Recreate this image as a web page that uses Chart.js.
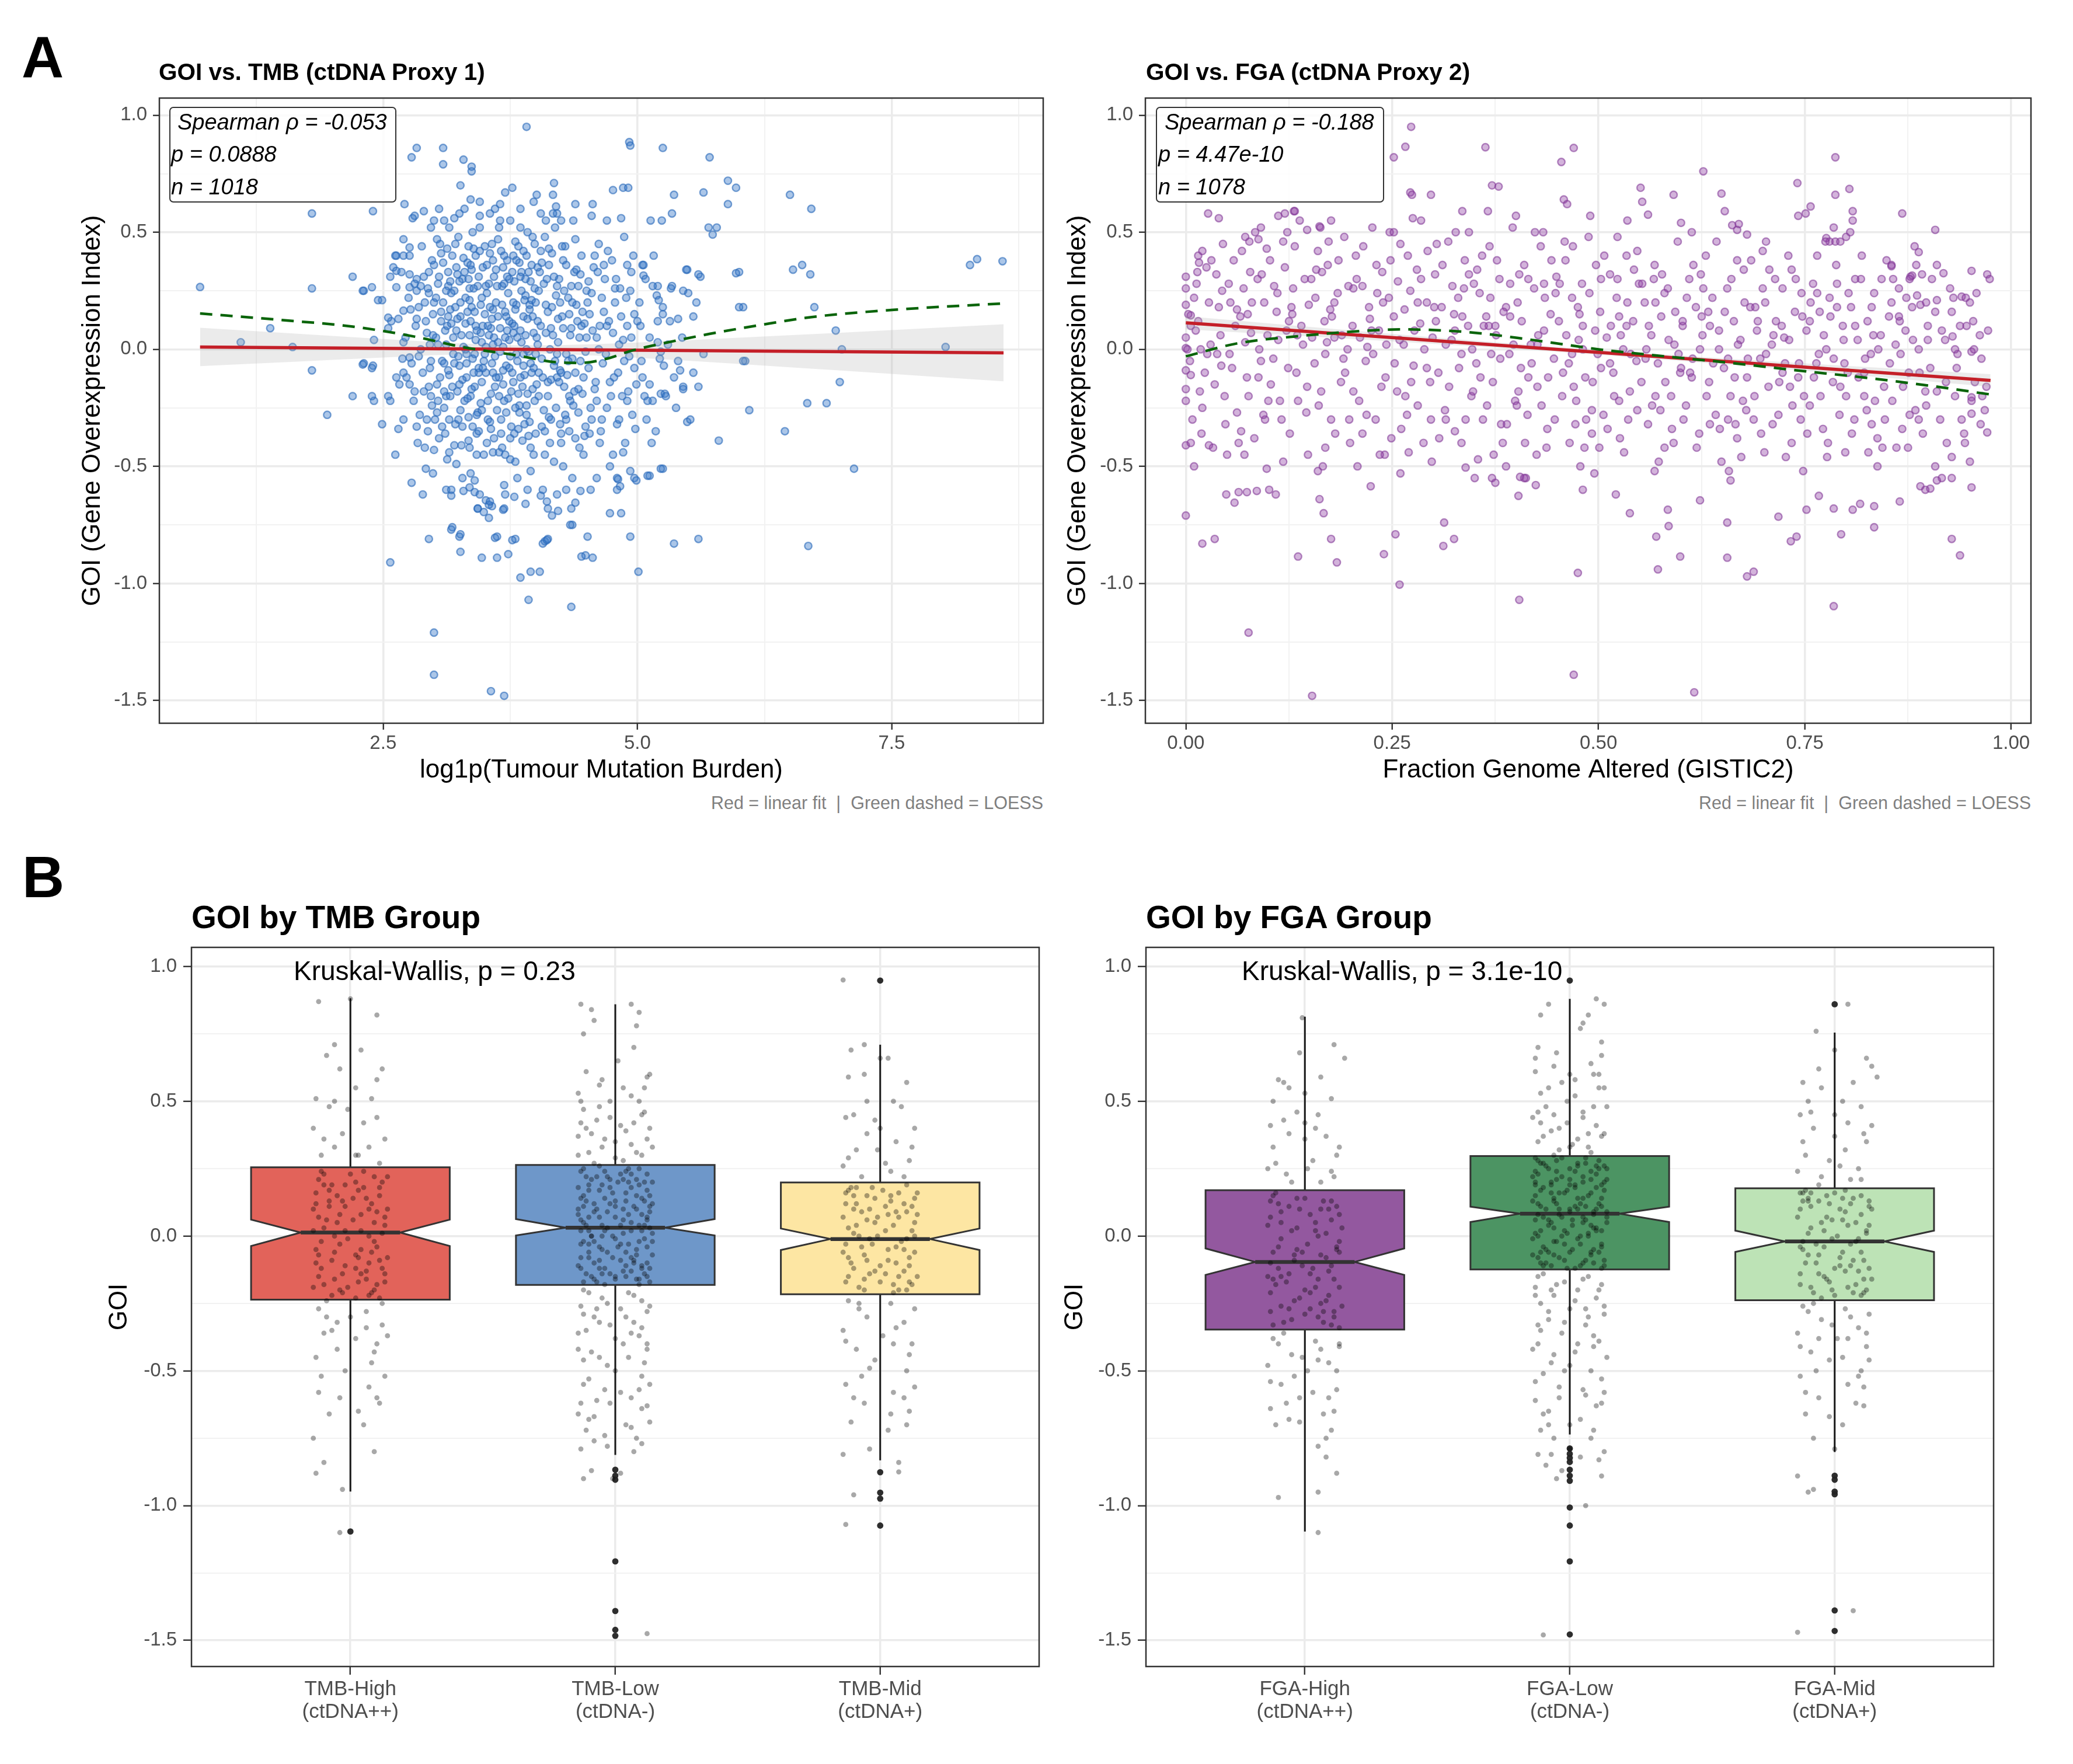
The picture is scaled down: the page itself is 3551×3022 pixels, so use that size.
<!DOCTYPE html>
<html><head><meta charset="utf-8"><title>GOI vs ctDNA proxies</title>
<script src="https://cdn.jsdelivr.net/npm/chart.js@4.4.1/dist/chart.umd.min.js"></script>
<style>
html,body{margin:0;padding:0;background:#fff;}
#page{position:relative;width:3551px;height:3022px;background:#fff;overflow:hidden;}
canvas{position:absolute;}
.lbl{position:absolute;white-space:pre;line-height:1;font-family:"Liberation Sans",Arial,Helvetica,sans-serif;color:#000;}
.annot{position:absolute;box-sizing:border-box;border:2.5px solid #333;border-radius:7px;background:rgba(255,255,255,0.82);}
</style></head>
<body><div id="page"></div>
<script>
// ---------------- DATA ----------------
const Y_MAJOR = [-1.5, -1.0, -0.5, 0.0, 0.5, 1.0];
const Y_LABELS = ['-1.5', '-1.0', '-0.5', '0.0', '0.5', '1.0'];
const Y_MINOR = [-1.25, -0.75, -0.25, 0.25, 0.75];

const TMB_X_MAJOR = [2.5, 5.0, 7.5];
const TMB_X_LABELS = ['2.5', '5.0', '7.5'];
const TMB_X_MINOR = [1.25, 3.75, 6.25, 8.75];
const FGA_X_MAJOR = [0, 0.25, 0.5, 0.75, 1.0];
const FGA_X_LABELS = ['0.00', '0.25', '0.50', '0.75', '1.00'];
const FGA_X_MINOR = [0.125, 0.375, 0.625, 0.875];

// Panel A left: GOI vs log1p(TMB)
const TMB_POINTS = [
[0.70,0.266],[1.10,0.03],[1.39,0.09],[1.61,0.01],[1.80,0.58],[1.80,0.26],[1.80,-0.09],[1.95,-0.28],[2.20,0.31],[2.20,-0.20],
[2.31,-0.06],[2.31,0.25],[2.40,0.59],[2.41,0.04],[2.41,-0.22],[2.49,-0.32],[2.40,-0.07],[2.49,0.21],[2.57,-0.91],[2.57,-0.22],
[2.71,0.62],[2.78,0.82],[2.83,0.86],[3.09,0.86],[3.09,0.79],[3.29,0.81],[3.37,0.78],[3.37,0.76],[3.26,0.70],[3.91,0.95],
[4.92,0.885],[4.93,0.87],[5.25,0.86],[5.71,0.82],[5.89,0.72],[5.97,0.69],[5.65,0.67],[5.36,0.66],[6.50,0.66],[6.71,0.60],
[5.89,0.62],[5.34,0.58],[5.13,0.55],[5.70,0.52],[5.78,0.52],[5.74,0.49],[6.00,0.33],[5.49,0.34],[5.62,0.31],[6.53,0.34],
[6.62,0.36],[6.70,0.32],[8.27,0.36],[8.34,0.385],[8.59,0.376],[6.74,0.18],[6.04,0.18],[6.95,0.08],[7.01,0.00],[8.03,0.01],
[6.06,-0.05],[6.99,-0.14],[6.10,-0.26],[6.67,-0.23],[6.86,-0.23],[6.45,-0.35],[5.80,-0.39],[5.49,-0.31],[7.13,-0.51],[6.68,-0.84],
[5.60,-0.81],[5.36,-0.83],[5.01,-0.95],[5.12,-0.54],[5.25,-0.51],[4.93,-0.52],[4.97,-0.55],[4.80,-0.55],[4.93,-0.80],[4.73,-0.70],
[4.84,-0.70],[4.51,-0.80],[4.49,-0.88],[4.56,-0.89],[4.35,-1.10],[4.36,-0.75],[3.93,-1.07],[3.95,-0.95],[4.04,-0.95],[3.85,-0.975],
[4.09,-0.82],[4.12,-0.81],[3.00,-1.21],[3.00,-1.39],[3.56,-1.46],[3.69,-1.48],[2.95,-0.81],[3.26,-0.79],[3.26,-0.865],[3.47,-0.89],
[3.62,-0.89],[3.73,-0.875],[3.62,-0.80],[3.80,-0.81],[2.89,-0.62],[2.78,-0.57],[3.18,-0.76],[3.43,-0.68],[3.57,-0.67],[3.69,-0.68],
[3.77,0.69],[3.70,0.67],[4.01,0.66],[3.98,0.63],[4.18,0.71],[4.17,0.66],[4.39,0.62],[4.20,0.61],[4.21,0.58],[3.36,0.64],
[4.76,0.68],[4.86,0.69],[4.91,0.69],[4.55,0.57],[4.84,0.56],[5.24,0.55],[2.90,0.59],[3.00,0.55],[3.20,0.56],[3.45,0.57],
[3.55,0.58],[3.65,0.55],[4.10,0.55],[2.60,0.35],[2.58,0.12],[2.62,-0.45],[2.65,-0.34],
[2.99,-0.53],[3.12,-0.60],[3.17,-0.625],[3.29,-0.605],[3.35,-0.59],[3.40,-0.61],[3.51,-0.645],[3.54,-0.664],[3.43,-0.68],[3.49,-0.695],
[3.54,-0.72],[3.68,-0.685],[3.79,-0.63],[3.92,-0.60],[3.90,-0.66],[4.05,-0.625],[4.11,-0.65],[4.12,-0.68],[4.16,-0.71],[4.22,-0.69],
[4.21,-0.62],[4.35,-0.68],[4.39,-0.655],[4.34,-0.75],[4.44,-0.605],[4.54,-0.60],[4.81,-0.555],[4.83,-0.585],[5.10,-0.54],[5.23,-0.51],
[4.99,-0.56],[3.17,-0.77],[3.25,-0.80],[3.60,-0.805],[3.77,-0.815],[4.07,-0.83],[4.11,-0.815],[4.45,-0.885],
[5.05,0.36],[5.06,0.315],[5.20,0.27],[5.19,0.23],[5.21,0.21],[5.48,0.34],[5.60,0.32],[5.97,0.325],[6.00,0.18],[6.04,-0.05],
[5.55,0.14],[5.34,0.27],[5.45,0.25],[5.25,0.15],[5.20,0.03],[5.23,-0.01],[5.40,-0.05],[5.42,-0.09],[5.45,-0.16],[5.60,-0.16],
[5.23,-0.19],[5.27,-0.19],[5.12,-0.15],[5.07,-0.20],[5.15,-0.22],
[2.81,0.57],[2.63,0.40],[2.70,0.40],[2.76,0.435],[2.63,0.335],[2.57,0.31],[2.76,0.32],[2.83,0.30],[2.39,0.265],[2.30,0.25],
[2.45,0.21],[2.63,0.265],[2.76,0.265],[2.83,0.25],[2.70,0.165],[2.55,0.135],[2.55,0.09],[2.70,0.03],[2.76,-0.035],[2.30,-0.065],
[2.39,-0.08],[2.63,-0.12],[2.70,-0.10],[2.76,-0.15],[2.39,-0.20],[2.55,-0.20],
[2.62,0.40],[2.65,0.13],[2.66,-0.15],[2.68,0.33],[2.70,0.47],[2.70,-0.30],[2.72,0.05],[2.73,-0.12],[2.75,0.22],[2.76,0.40],
[2.78,-0.06],[2.79,0.56],[2.80,-0.22],[2.81,0.28],[2.82,0.10],[2.84,-0.40],[2.85,0.18],[2.86,-0.28],[2.87,0.00],[2.88,0.44],
[2.90,-0.18],[2.90,0.31],[2.92,-0.51],[2.93,0.07],[2.94,-0.35],[2.95,0.24],[2.96,-0.08],[2.97,0.52],[2.98,-0.24],[2.99,0.15],
[3.00,-0.43],[3.00,0.36],[2.83,-0.33],[2.77,0.17],[2.69,-0.04],
[3.02,0.05],[3.03,-0.15],[3.04,0.28],[3.05,-0.38],[3.06,0.45],[3.07,0.12],[3.08,-0.05],[3.09,0.20],[3.10,-0.25],[3.10,0.55],
[3.12,0.02],[3.13,-0.47],[3.14,0.33],[3.15,-0.11],[3.16,0.17],[3.17,-0.60],[3.18,0.40],[3.19,-0.02],[3.20,0.25],[3.21,-0.32],
[3.22,0.08],[3.23,-0.18],[3.24,0.48],[3.25,-0.07],[3.26,0.14],[3.27,-0.41],[3.28,0.30],[3.29,0.01],[3.30,-0.22],[3.31,0.22],
[3.32,-0.12],[3.33,0.37],[3.34,-0.29],[3.35,0.06],[3.36,-0.53],[3.37,0.18],[3.38,-0.04],[3.39,0.43],[3.40,-0.16],[3.41,0.10],
[3.42,-0.36],[3.43,0.27],[3.44,-0.08],[3.45,0.52],[3.46,-0.23],[3.47,0.03],[3.48,0.35],[3.49,-0.45],[3.50,0.15],[3.05,0.60],
[3.15,-0.30],[3.25,0.58],[3.35,0.26],[3.45,-0.62],[3.12,-0.20],[3.22,0.35],[3.32,-0.02],[3.42,0.08],[3.28,-0.55],[3.38,0.50],
[3.51,-0.10],[3.52,0.24],[3.53,-0.30],[3.54,0.06],[3.55,0.41],[3.56,-0.19],[3.57,0.13],[3.58,-0.44],[3.59,0.31],[3.60,-0.03],
[3.61,0.20],[3.62,-0.26],[3.63,0.47],[3.64,-0.12],[3.65,0.09],[3.66,-0.36],[3.67,0.27],[3.68,0.01],[3.69,-0.58],[3.70,0.16],
[3.71,-0.07],[3.72,0.38],[3.73,-0.21],[3.74,0.04],[3.75,0.55],[3.76,-0.33],[3.77,0.11],[3.78,-0.14],[3.79,0.29],[3.80,-0.48],
[3.81,0.19],[3.82,-0.05],[3.83,0.44],[3.84,-0.24],[3.85,0.08],[3.86,0.33],[3.87,-0.39],[3.88,0.14],[3.89,-0.11],[3.90,0.23],
[3.91,-0.28],[3.92,0.50],[3.93,-0.01],[3.94,0.17],[3.95,-0.52],[3.96,0.36],[3.97,-0.17],[3.98,0.07],[3.99,0.26],[4.00,-0.36],
[3.55,-0.65],[3.65,0.62],[3.75,-0.47],[3.85,0.60],[3.95,-0.42],[3.58,0.02],[3.68,-0.15],[3.78,0.40],[3.88,-0.02],[3.98,-0.08],
[4.02,0.12],[4.03,-0.20],[4.05,0.42],[4.06,-0.04],[4.08,0.28],[4.09,-0.45],[4.10,0.07],[4.12,-0.14],[4.13,0.36],[4.15,-0.30],
[4.16,0.18],[4.18,-0.07],[4.19,0.52],[4.20,-0.25],[4.22,0.03],[4.23,0.30],[4.25,-0.40],[4.26,0.14],[4.28,-0.16],[4.29,0.44],
[4.30,-0.02],[4.32,0.22],[4.33,-0.35],[4.35,0.09],[4.36,-0.55],[4.38,0.33],[4.39,-0.10],[4.40,0.19],[4.42,-0.27],[4.43,0.05],
[4.45,0.40],[4.46,-0.19],[4.48,0.11],[4.49,-0.33],[4.50,0.25],[4.07,-0.60],[4.17,0.58],[4.27,-0.50],[4.37,0.55],[4.47,-0.45],
[4.14,0.00],[4.24,0.20],[4.34,-0.22],[4.44,-0.05],[4.21,-0.12],
[4.52,-0.08],[4.53,0.15],[4.55,-0.30],[4.57,0.35],[4.58,-0.17],[4.60,0.05],[4.62,0.45],[4.63,-0.40],[4.65,0.22],[4.66,-0.06],
[4.68,0.30],[4.70,-0.25],[4.72,0.12],[4.73,-0.50],[4.75,0.38],[4.77,-0.12],[4.78,0.20],[4.80,-0.32],[4.82,0.02],[4.83,0.26],
[4.85,-0.20],[4.87,0.48],[4.88,-0.40],[4.90,0.10],[4.92,-0.03],[4.93,0.25],[4.95,-0.28],[4.97,0.15],[4.99,-0.15],[4.60,-0.55],
[4.70,0.55],[4.80,-0.60],[4.90,0.36],[4.56,0.62],[4.76,-0.45],
[5.02,0.20],[5.05,-0.12],[5.08,0.30],[5.10,-0.22],[5.12,0.05],[5.15,0.27],[5.18,-0.35],[5.20,0.12],[5.22,-0.04],[5.25,0.18],
[5.28,-0.20],[5.30,0.02],[5.33,0.26],[5.36,-0.12],[5.40,0.13],[5.45,-0.17],[5.50,0.24],[5.55,-0.10],[5.06,0.36],[5.14,-0.40]
];
const TMB_POINTS_CORE = [
[3.05,0.31],[3.08,-0.33],[3.11,0.08],[3.14,-0.09],[3.17,0.24],[3.2,-0.41],[3.23,0.13],[3.26,-0.26],[3.29,0.39],[3.32,-0.06],
[3.35,0.21],[3.38,-0.33],[3.41,0.04],[3.44,0.31],[3.47,-0.14],[3.5,0.44],[3.53,-0.22],[3.56,0.09],[3.59,-0.38],[3.62,0.27],
[3.65,-0.01],[3.68,0.35],[3.71,-0.27],[3.74,0.12],[3.77,-0.1],[3.8,0.46],[3.83,-0.34],[3.86,0.03],[3.89,0.21],[3.92,-0.19],
[3.95,0.29],[3.98,-0.45],[4.01,0.05],[4.04,0.33],[4.07,-0.12],[4.1,0.19],[4.13,-0.29],[4.16,0.41],[4.19,-0.05],[4.22,0.13],
[4.25,-0.36],[4.28,0.25],[4.31,-0.11],[4.34,0.06],[4.37,-0.24],[4.4,0.34],[4.43,-0.42],[4.46,0.16],[4.49,-0.01],[4.52,0.29],
[3.07,0.16],[3.1,-0.06],[3.13,0.43],[3.16,-0.2],[3.19,0.05],[3.22,-0.49],[3.25,0.29],[3.28,-0.13],[3.31,0.11],[3.34,-0.39],
[3.37,0.34],[3.4,-0.02],[3.43,-0.27],[3.46,0.19],[3.49,-0.05],[3.52,0.36],[3.55,-0.31],[3.58,0.17],[3.61,-0.12],[3.64,0.52],
[3.67,-0.42],[3.7,0.05],[3.73,0.24],[3.76,-0.18],[3.79,0.1],[3.82,-0.55],[3.85,0.31],[3.88,-0.07],[3.91,0.4],[3.94,-0.31],
[3.97,0.14],[4.0,-0.02],[4.03,0.25],[4.06,-0.33],[4.09,0.48],[4.12,-0.2],[4.15,0.09],[4.18,-0.48],[4.21,0.27],[4.24,-0.09],
[4.27,0.38],[4.3,-0.3],[4.33,0.15],[4.36,-0.04],[4.39,0.47],[4.42,-0.17],[4.45,0.1],[4.48,-0.37],[4.51,0.2],[4.54,-0.25],
[2.92,0.12],[2.95,-0.16],[2.98,0.38],[3.01,-0.3],[3.03,0.47],[2.96,0.02],[2.91,-0.42],[2.94,0.26],[2.97,-0.05],[3.0,0.2],
[3.6,0.6],[3.45,0.63],[3.85,0.52],[4.25,0.55],[4.05,0.58],[3.3,0.6],[3.15,0.52],[3.7,-0.62],[3.4,-0.56],[4.3,-0.6],
[4.56,0.08],[4.59,-0.14],[4.61,0.33],[4.64,-0.35],[4.67,0.16],[4.69,-0.02],[4.71,0.42],[4.74,-0.2],[4.76,0.07],[4.79,0.3],
[4.81,-0.1],[4.84,0.14],[4.86,-0.44],[4.89,0.22],[4.91,-0.18],[4.94,0.05],[4.96,0.4],[4.98,-0.34],[4.63,0.1],[4.87,-0.05],
[3.33,0.16],[3.36,-0.2],[3.39,0.26],[3.42,-0.45],[3.48,0.1],[3.51,0.01],[3.57,-0.06],[3.63,0.14],[3.66,0.42],[3.69,-0.22],
[3.72,0.08],[3.75,-0.38],[3.78,0.2],[3.81,-0.02],[3.84,0.37],[3.87,-0.16],[3.9,0.06],[3.93,0.33],[3.96,-0.1],[3.99,0.45],
[3.54,0.28],[3.64,-0.44],[3.74,0.3],[3.84,-0.27],[3.94,0.19],[3.44,-0.1],[3.34,0.44],[3.24,-0.03],[3.14,0.27],[3.04,-0.22],
[5.03,0.1],[5.09,-0.3],[5.16,0.4],[5.26,-0.07],[5.32,0.12],[5.38,-0.25],[5.44,0.05],[5.52,-0.3],[5.58,0.2],[5.65,-0.02]
];
const TMB_POINTS_DENSE = [
[3.02,0.22],[3.06,-0.12],[3.09,0.37],[3.11,-0.36],[3.13,0.1],[3.16,0.29],[3.18,-0.16],[3.21,0.18],[3.24,-0.3],[3.27,0.06],
[3.3,0.33],[3.33,-0.21],[3.36,0.12],[3.39,-0.1],[3.41,0.4],[3.44,-0.35],[3.47,0.22],[3.5,-0.02],[3.52,-0.4],[3.55,0.18],
[3.58,0.38],[3.6,-0.16],[3.63,0.03],[3.66,-0.3],[3.69,0.28],[3.71,0.14],[3.74,-0.08],[3.77,0.33],[3.8,-0.25],[3.82,0.05],
[3.85,-0.12],[3.88,0.42],[3.91,0.0],[3.93,-0.37],[3.96,0.21],[3.99,-0.22],[4.02,0.35],[4.05,0.1],[4.08,-0.26],[4.11,0.3],
[4.14,-0.4],[4.17,0.06],[4.2,0.23],[4.23,-0.14],[4.26,0.44],[4.29,-0.28],[4.32,-0.05],[4.35,0.27],[4.38,-0.18],[4.41,0.12],
[3.04,0.02],[3.07,0.41],[3.1,-0.18],[3.12,0.25],[3.15,-0.44],[3.17,0.11],[3.2,-0.06],[3.23,0.32],[3.26,0.2],[3.28,-0.33],
[3.31,0.0],[3.34,0.3],[3.37,-0.17],[3.4,0.16],[3.42,-0.28],[3.45,0.42],[3.48,-0.08],[3.51,0.27],[3.53,0.1],[3.56,-0.34],
[3.59,0.05],[3.61,0.34],[3.64,-0.2],[3.67,0.19],[3.7,-0.45],[3.72,0.31],[3.75,-0.03],[3.78,0.07],[3.81,0.38],[3.83,-0.19],
[3.86,0.25],[3.89,-0.32],[3.92,0.13],[3.95,-0.06],[3.97,0.48],[4.0,0.2],[4.03,-0.1],[4.06,0.37],[4.09,-0.35],[4.12,0.16],
[4.15,-0.13],[4.18,0.31],[4.21,-0.02],[4.24,-0.32],[4.27,0.09],[4.3,0.36],[4.33,-0.2],[4.36,0.2],[4.39,-0.38],[4.42,0.27],
[3.21,0.45],[3.35,-0.42],[3.46,0.07],[3.57,0.45],[3.68,-0.09],[3.79,-0.36],[3.9,0.3],[4.01,-0.15],[4.13,0.43],[4.25,-0.1],
[3.03,-0.27],[3.14,0.14],[3.25,-0.15],[3.36,0.36],[3.47,-0.26],[3.58,-0.1],[3.69,0.4],[3.8,0.17],[3.91,-0.24],[4.02,0.02],
[4.44,0.32],[4.47,-0.12],[4.5,0.05],[4.53,-0.36],[4.55,0.24],[4.58,0.4],[4.6,-0.22],[4.62,0.0],[4.65,-0.3],[4.67,0.36],
[2.95,0.33],[2.97,-0.2],[2.99,0.06],[2.93,-0.3],[2.91,0.2],[2.89,-0.1],[2.87,0.27],[2.85,-0.03],[2.83,0.13],[2.81,-0.18],
[4.7,0.1],[4.73,-0.14],[4.78,0.26],[4.82,-0.3],[4.86,0.04],[4.9,-0.22],[4.94,0.33],[4.97,-0.08],[5.0,0.12],[5.04,-0.05]
];
const TMB_LINEAR = [[0.70, 0.010], [8.60, -0.015]];
const TMB_BAND_X  = [0.7, 1.5, 2.5, 3.5, 4.0, 4.5, 5.5, 6.5, 7.5, 8.6];
const TMB_BAND_HI = [0.092, 0.071, 0.044, 0.021, 0.017, 0.021, 0.039, 0.060, 0.082, 0.107];
const TMB_BAND_LO = [-0.072, -0.056, -0.035, -0.019, -0.018, -0.025, -0.049, -0.077, -0.105, -0.137];
const TMB_LOESS = [[0.7,0.153],[1.5,0.125],[2.2,0.097],[2.8,0.055],[3.3,0.008],[3.8,-0.025],[4.2,-0.055],[4.45,-0.058],
  [4.7,-0.04],[4.95,-0.005],[5.25,0.025],[5.7,0.065],[6.2,0.103],[6.7,0.137],[7.5,0.168],[8.6,0.196]];

// Panel A right: GOI vs FGA
const FGA_POINTS = [
[0.273,0.95],[0.266,0.865],[0.252,0.82],[0.363,0.863],[0.470,0.86],[0.455,0.80],[0.627,0.76],[0.787,0.82],[0.741,0.71],[0.804,0.685],
[0.787,0.66],[0.551,0.69],[0.591,0.66],[0.649,0.665],[0.868,0.58],[0.908,0.51],[0.751,0.58],[0.808,0.59],[0.808,0.55],[0.653,0.59],
[0.662,0.53],[0.027,0.58],[0.131,0.59],[0.297,0.66],[0.272,0.67],[0.371,0.70],[0.379,0.695],[0.0,0.31],[0.0,0.26],[0.015,0.40],
[0.016,0.37],[0.0,0.19],[0.006,0.145],[0.0,0.005],[0.002,0.0],[0.0,-0.09],[0.006,-0.11],[0.0,-0.17],[0.0,-0.22],[0.0,-0.41],
[0.006,-0.40],[0.0,-0.71],[0.01,-0.50],[0.02,-0.83],[0.035,-0.81],[0.028,-0.41],[0.049,-0.62],[0.059,-0.655],[0.064,-0.61],[0.074,-0.61],
[0.086,-0.605],[0.101,-0.60],[0.109,-0.62],[0.071,-0.45],[0.076,-1.21],[0.136,-0.885],[0.153,-1.48],[0.162,-0.64],[0.167,-0.70],[0.176,-0.81],
[0.183,-0.91],[0.098,-0.51],[0.166,-0.50],[0.224,-0.585],[0.240,-0.875],[0.254,-0.79],[0.259,-1.005],[0.260,-0.53],[0.241,-0.45],[0.313,-0.74],
[0.325,-0.81],[0.312,-0.84],[0.339,-0.505],[0.354,-0.47],[0.371,-0.55],[0.375,-0.57],[0.404,-1.07],[0.403,-0.626],[0.405,-0.545],[0.412,-0.55],
[0.424,-0.58],[0.475,-0.955],[0.470,-1.39],[0.481,-0.60],[0.483,-0.42],[0.495,-0.53],[0.521,-0.62],[0.538,-0.70],[0.572,-0.94],[0.570,-0.80],
[0.585,-0.755],[0.584,-0.685],[0.599,-0.885],[0.616,-1.465],[0.623,-0.645],[0.656,-0.74],[0.656,-0.89],[0.680,-0.97],[0.688,-0.95],[0.718,-0.715],
[0.733,-0.82],[0.740,-0.80],[0.767,-0.626],[0.752,-0.685],[0.785,-0.68],[0.785,-1.097],[0.794,-0.79],[0.808,-0.685],[0.817,-0.66],[0.834,-0.76],
[0.834,-0.67],[0.865,-0.65],[0.890,-0.585],[0.896,-0.60],[0.902,-0.595],[0.908,-0.50],[0.916,-0.55],[0.928,-0.81],[0.938,-0.88],[0.928,-0.55],
[0.952,-0.59],[0.950,-0.48],[0.971,-0.355],[0.952,-0.275],[0.952,-0.205],[0.952,-0.01],[0.955,0.0],[0.940,0.225],[0.918,0.325],[0.952,0.335],
[0.971,0.32],[0.929,0.055],[0.888,0.415],[0.886,0.23],[0.855,0.36],[0.878,0.31],
[0.335,0.59],[0.366,0.59],[0.40,0.57],[0.458,0.64],[0.462,0.62],[0.49,0.57],[0.274,0.66],
[0.077,0.46],[0.088,0.47],[0.091,0.52],[0.112,0.57],[0.12,0.58],[0.132,0.59],[0.147,0.51],[0.162,0.525],[0.176,0.55],
[0.553,0.63],[0.56,0.575],[0.67,0.535],[0.668,0.51],[0.68,0.49],[0.742,0.57],[0.757,0.61],[0.805,0.50],[0.80,0.48],[0.776,0.475],
[0.78,0.46],[0.787,0.46],[0.855,0.355],[0.88,0.315],[0.91,0.21],[0.89,0.19],[0.945,0.22],
[0.0,0.05],[0.005,-0.05],[0.01,0.22],[0.015,0.12],[0.02,-0.25],[0.025,0.35],[0.03,0.02],[0.035,-0.15],[0.04,0.18],[0.045,0.45],[0.048,-0.32],[0.012,0.08],[0.038,-0.02],
[0.052,0.28],[0.056,-0.08],[0.06,0.10],[0.064,-0.40],[0.068,0.42],[0.072,0.03],[0.076,-0.20],[0.08,0.20],[0.084,0.50],[0.088,-0.12],[0.092,0.32],[0.096,-0.30],[0.099,0.06],[0.075,0.15],
[0.102,0.38],[0.106,-0.04],[0.11,0.16],[0.114,-0.22],[0.118,0.46],[0.122,0.08],[0.126,-0.36],[0.13,0.26],[0.134,-0.10],[0.138,0.55],[0.142,0.02],[0.146,-0.27],[0.149,0.19],[0.125,0.12],
[0.152,0.30],[0.156,-0.06],[0.16,0.42],[0.164,-0.18],[0.168,0.12],[0.172,0.36],[0.176,-0.30],[0.18,0.05],[0.184,0.24],[0.188,-0.14],[0.192,0.48],[0.196,0.00],[0.199,-0.40],[0.175,0.17],
[0.202,0.10],[0.206,0.40],[0.21,-0.22],[0.214,0.27],[0.218,-0.05],[0.222,0.18],[0.226,0.52],[0.23,-0.30],[0.234,0.08],[0.238,0.33],[0.242,-0.12],[0.246,0.22],[0.249,-0.38],[0.22,0.01],
[0.252,0.14],[0.256,-0.18],[0.26,0.45],[0.264,0.02],[0.268,-0.28],[0.272,0.25],[0.276,-0.07],[0.28,0.34],[0.284,0.11],[0.288,-0.40],[0.292,0.20],[0.296,-0.14],[0.299,0.05],[0.275,0.56],
[0.302,0.32],[0.306,-0.10],[0.31,0.18],[0.314,-0.26],[0.318,0.46],[0.322,0.04],[0.326,-0.35],[0.33,0.22],[0.334,-0.02],[0.338,0.38],[0.342,0.10],[0.346,-0.20],[0.349,0.28],[0.325,0.15],
[0.352,-0.06],[0.356,0.24],[0.36,-0.30],[0.364,0.14],[0.368,0.44],[0.372,-0.14],[0.376,0.06],[0.38,0.30],[0.384,-0.40],[0.388,0.18],[0.392,-0.02],[0.396,0.52],[0.399,-0.22],[0.375,0.10],
[0.402,0.20],[0.406,-0.08],[0.41,0.36],[0.414,-0.28],[0.418,0.02],[0.422,0.26],[0.426,-0.16],[0.43,0.44],[0.434,0.08],[0.438,-0.34],[0.442,0.15],[0.446,-0.04],[0.449,0.31],[0.425,-0.45],
[0.452,0.12],[0.456,-0.20],[0.46,0.38],[0.464,-0.06],[0.468,0.22],[0.472,-0.32],[0.476,0.04],[0.48,0.28],[0.484,-0.12],[0.488,0.48],[0.492,-0.26],[0.496,0.08],[0.499,-0.02],[0.475,0.18],
[0.502,0.16],[0.506,-0.28],[0.51,0.05],[0.514,0.32],[0.518,-0.10],[0.522,0.22],[0.526,-0.38],[0.53,0.00],[0.534,0.40],[0.538,-0.18],[0.542,0.12],[0.546,-0.05],[0.549,0.28],[0.525,-0.22],
[0.552,-0.14],[0.556,0.20],[0.56,-0.32],[0.564,0.06],[0.568,0.36],[0.572,-0.06],[0.576,0.14],[0.58,-0.42],[0.584,0.26],[0.588,-0.20],[0.592,0.02],[0.596,0.46],[0.599,-0.10],[0.575,-0.26],
[0.602,0.10],[0.606,-0.24],[0.61,0.30],[0.614,-0.04],[0.618,0.18],[0.622,-0.36],[0.626,0.06],[0.63,0.40],[0.634,-0.14],[0.638,0.22],[0.642,-0.28],[0.646,0.00],[0.649,-0.48],[0.625,0.14],
[0.652,-0.08],[0.656,0.26],[0.66,-0.20],[0.664,0.12],[0.668,-0.38],[0.672,0.04],[0.676,0.34],[0.68,-0.12],[0.684,0.18],[0.688,-0.30],[0.692,0.08],[0.696,-0.04],[0.699,0.42],[0.675,-0.22],
[0.702,0.20],[0.706,-0.16],[0.71,0.02],[0.714,0.30],[0.718,-0.28],[0.722,0.10],[0.726,-0.06],[0.73,0.40],[0.734,-0.40],[0.738,0.16],[0.742,-0.12],[0.746,0.24],[0.749,-0.20],[0.725,0.05],
[0.752,0.08],[0.756,-0.24],[0.76,0.28],[0.764,-0.06],[0.768,0.16],[0.772,-0.34],[0.776,0.00],[0.78,0.22],[0.784,-0.14],[0.788,0.36],[0.792,-0.28],[0.796,0.10],[0.799,-0.44],[0.775,0.46],
[0.802,-0.10],[0.806,0.18],[0.81,-0.30],[0.814,0.04],[0.818,0.30],[0.822,-0.20],[0.826,0.12],[0.83,-0.02],[0.834,0.24],[0.838,-0.38],[0.842,0.06],[0.846,-0.16],[0.849,0.38],[0.825,-0.26],
[0.852,0.14],[0.856,-0.22],[0.86,0.02],[0.864,0.26],[0.868,-0.34],[0.872,0.08],[0.876,-0.10],[0.88,0.18],[0.884,-0.26],[0.888,0.00],[0.892,0.32],[0.896,-0.18],[0.899,0.10],[0.875,-0.42],
[0.902,-0.08],[0.908,0.16],[0.914,-0.30],[0.92,0.04],[0.926,0.26],[0.932,-0.20],[0.938,0.10],[0.944,-0.40],[0.95,0.20],[0.956,-0.14],[0.962,0.06],[0.968,-0.26],[0.974,0.30],[0.935,-0.02]
];
const FGA_POINTS_CORE = [
[0.003,0.15],[0.008,-0.3],[0.013,0.28],[0.018,0.0],[0.023,-0.1],[0.028,0.2],[0.033,-0.42],[0.037,0.32],[0.042,0.06],[0.047,-0.2],[0.02,0.42],[0.044,0.25],
[0.053,-0.02],[0.058,0.38],[0.062,-0.27],[0.066,0.14],[0.07,0.26],[0.074,-0.12],[0.079,0.07],[0.083,-0.38],[0.087,0.3],[0.091,-0.05],[0.095,0.2],[0.098,0.43],
[0.103,-0.15],[0.107,0.27],[0.112,0.04],[0.116,-0.3],[0.12,0.35],[0.124,-0.08],[0.128,0.18],[0.132,0.44],[0.136,-0.22],[0.14,0.1],[0.144,0.3],[0.148,-0.45],
[0.153,0.05],[0.157,0.22],[0.161,-0.24],[0.165,0.33],[0.169,-0.02],[0.173,0.46],[0.177,0.14],[0.181,-0.36],[0.185,0.38],[0.189,0.06],[0.193,-0.1],[0.197,0.27],
[0.203,-0.18],[0.207,0.3],[0.211,0.05],[0.215,0.44],[0.219,-0.28],[0.223,0.13],[0.227,-0.02],[0.231,0.36],[0.235,-0.45],[0.239,0.2],[0.243,0.02],[0.247,0.5],
[0.253,-0.06],[0.257,0.29],[0.261,-0.34],[0.265,0.17],[0.269,0.4],[0.273,-0.14],[0.277,0.08],[0.281,-0.24],[0.285,0.3],[0.289,0.0],[0.293,0.42],[0.297,-0.3],
[0.303,0.12],[0.307,-0.38],[0.311,0.36],[0.315,0.02],[0.319,-0.16],[0.323,0.27],[0.327,0.5],[0.331,-0.08],[0.335,0.14],[0.339,-0.3],[0.343,0.32],[0.347,0.0],
[0.353,0.34],[0.357,-0.12],[0.361,0.1],[0.365,-0.24],[0.369,0.22],[0.373,-0.45],[0.377,0.38],[0.381,-0.04],[0.385,0.16],[0.389,-0.32],[0.393,0.28],[0.397,0.02],
[0.403,-0.18],[0.407,0.12],[0.411,-0.4],[0.415,0.3],[0.419,-0.06],[0.423,0.5],[0.427,0.06],[0.431,-0.24],[0.435,0.22],[0.439,-0.12],[0.443,0.38],[0.447,-0.3],
[0.453,0.28],[0.457,-0.1],[0.461,0.06],[0.465,-0.4],[0.469,0.44],[0.473,-0.22],[0.477,0.15],[0.481,0.0],[0.485,-0.3],[0.489,0.24],[0.493,-0.14],[0.497,0.36],
[0.503,-0.08],[0.507,0.4],[0.511,-0.34],[0.515,0.1],[0.519,-0.2],[0.523,0.3],[0.527,0.06],[0.531,-0.44],[0.535,0.2],[0.539,-0.02],[0.543,0.34],[0.547,-0.26],
[0.553,0.28],[0.557,-0.04],[0.561,0.1],[0.565,-0.24],[0.569,0.2],[0.573,-0.48],[0.577,0.32],[0.581,-0.14],[0.585,0.04],[0.589,-0.34],[0.593,0.16],[0.597,-0.02],
[0.603,-0.3],[0.607,0.22],[0.611,-0.1],[0.615,0.36],[0.619,-0.42],[0.623,0.0],[0.627,0.26],[0.631,-0.2],[0.635,0.1],[0.639,-0.06],[0.643,0.46],[0.647,-0.34],
[0.653,0.16],[0.657,-0.3],[0.661,0.3],[0.665,-0.12],[0.669,0.02],[0.673,-0.46],[0.677,0.2],[0.681,-0.04],[0.685,0.38],[0.689,-0.2],[0.693,0.12],[0.697,-0.36],
[0.703,-0.02],[0.707,0.34],[0.711,-0.32],[0.715,0.12],[0.719,-0.14],[0.723,0.26],[0.727,-0.46],[0.731,0.04],[0.735,-0.24],[0.739,0.3],[0.743,-0.06],[0.747,0.14],
[0.753,-0.36],[0.757,0.2],[0.761,-0.12],[0.765,0.4],[0.769,-0.2],[0.773,0.06],[0.777,-0.46],[0.781,0.14],[0.785,-0.04],[0.789,0.28],[0.793,-0.16],[0.797,0.04],
[0.803,0.24],[0.807,-0.36],[0.811,0.1],[0.815,-0.12],[0.819,0.4],[0.823,-0.04],[0.827,-0.44],[0.831,0.18],[0.835,-0.22],[0.839,0.0],[0.843,0.3],[0.847,-0.3],
[0.853,-0.06],[0.857,0.3],[0.861,-0.42],[0.865,0.12],[0.869,-0.16],[0.873,0.22],[0.877,-0.28],[0.881,0.04],[0.885,0.36],[0.889,-0.1],[0.893,-0.36],[0.897,0.2],
[0.904,0.3],[0.91,-0.18],[0.916,0.08],[0.922,-0.4],[0.928,0.16],[0.934,-0.08],[0.94,-0.3],[0.946,0.1],[0.952,-0.22],[0.958,0.24],[0.964,-0.04],[0.97,-0.16]
];
const FGA_POINTS_DENSE = [
[0.006,0.1],[0.017,-0.18],[0.031,0.38],[0.043,-0.07],[0.054,0.2],[0.067,-0.35],[0.078,0.33],[0.089,0.0],[0.1,-0.22],[0.111,0.24],
[0.123,0.5],[0.135,0.06],[0.147,-0.16],[0.158,0.34],[0.169,-0.42],[0.18,0.2],[0.191,-0.04],[0.203,0.26],[0.214,-0.36],[0.225,0.08],
[0.237,-0.16],[0.248,0.38],[0.259,0.04],[0.27,-0.44],[0.281,0.2],[0.292,-0.08],[0.304,0.45],[0.315,-0.3],[0.326,0.08],[0.337,0.26],
[0.348,-0.18],[0.359,0.4],[0.37,-0.02],[0.382,-0.32],[0.393,0.14],[0.404,0.32],[0.415,-0.12],[0.426,0.02],[0.437,-0.42],[0.448,0.24],
[0.459,0.46],[0.47,-0.16],[0.481,0.1],[0.492,-0.36],[0.503,0.3],[0.514,-0.06],[0.525,0.14],[0.536,-0.3],[0.547,0.42],[0.558,0.0],
[0.569,-0.2],[0.58,0.24],[0.591,-0.4],[0.602,0.12],[0.613,-0.12],[0.624,0.32],[0.635,-0.32],[0.646,0.08],[0.657,-0.04],[0.668,0.38],
[0.679,-0.26],[0.69,0.18],[0.701,-0.44],[0.712,0.06],[0.723,-0.1],[0.734,0.34],[0.745,-0.3],[0.756,0.12],[0.767,-0.02],[0.778,-0.4],
[0.789,0.18],[0.8,-0.2],[0.811,0.3],[0.822,-0.1],[0.833,0.06],[0.844,-0.42],[0.855,0.2],[0.866,-0.02],[0.877,0.3],[0.888,-0.3],
[0.899,0.04],[0.91,0.36],[0.921,-0.14],[0.932,0.0],[0.943,-0.36],[0.954,0.12],[0.965,-0.2],[0.972,0.08],[0.014,0.33],[0.05,-0.45],
[0.072,0.48],[0.118,-0.48],[0.163,0.52],[0.208,-0.5],[0.252,0.5],[0.298,-0.48],[0.343,0.5],[0.388,-0.5],[0.433,0.5],[0.478,-0.5],
[0.523,0.48],[0.568,-0.52],[0.613,0.5],[0.658,-0.52],[0.703,0.46],[0.748,-0.52],[0.793,0.46],[0.838,-0.5],[0.883,0.44],[0.928,-0.46],
[0.026,-0.02],[0.062,0.17],[0.094,-0.28],[0.129,0.15],[0.171,0.03],[0.198,-0.3],[0.232,0.24],[0.266,-0.2],[0.301,0.18],[0.334,-0.4],
[0.367,0.1],[0.401,-0.24],[0.434,0.28],[0.468,-0.02],[0.501,-0.42],[0.534,0.1],[0.567,0.3],[0.6,-0.08],[0.633,0.16],[0.666,-0.32],
[0.699,0.26],[0.732,-0.16],[0.765,0.24],[0.798,-0.06],[0.831,-0.32],[0.864,0.14],[0.897,-0.24],[0.93,0.22],[0.963,-0.32],[0.019,-0.36],
[0.04,0.56],[0.16,-0.52],[0.285,0.55],[0.41,-0.55],[0.535,0.55],[0.66,-0.56],[0.785,0.52],[0.91,-0.56],[0.35,-0.55],[0.6,0.54]
];
const FGA_LINEAR = [[0.0, 0.113], [0.975, -0.133]];
const FGA_BAND_X  = [0.0, 0.25, 0.5, 0.75, 0.975];
const FGA_BAND_HI = [0.141, 0.066, -0.003, -0.060, -0.106];
const FGA_BAND_LO = [0.085, 0.034, -0.023, -0.092, -0.160];
const FGA_LOESS = [[0,-0.03],[0.062,0.025],[0.142,0.058],[0.222,0.08],[0.26,0.085],[0.34,0.074],[0.42,0.04],[0.5,0.0],
  [0.58,-0.03],[0.66,-0.058],[0.74,-0.09],[0.82,-0.12],[0.9,-0.155],[0.975,-0.193]];

// Panel B: notched box plots
const TMB_GROUPS = [['TMB-High','(ctDNA++)'], ['TMB-Low','(ctDNA-)'], ['TMB-Mid','(ctDNA+)']];
const TMB_Q1 = [-0.236, -0.181, -0.216];
const TMB_MED = [0.013, 0.031, -0.011];
const TMB_Q3 = [0.255, 0.264, 0.199];
const TMB_NOTCH_LO = [-0.037, 0.002, -0.052];
const TMB_NOTCH_HI = [0.061, 0.063, 0.028];
const TMB_WHISK_LO = [-0.948, -0.812, -0.832];
const TMB_WHISK_HI = [0.882, 0.860, 0.710];
const TMB_OUT_HIGH = [-1.096];
const TMB_OUT_LOW = [-0.867, -0.889, -0.904, -1.207, -1.391, -1.461, -1.483];
const TMB_OUT_MID = [0.948, -0.876, -0.952, -0.974, -1.074];

const FGA_GROUPS = [['FGA-High','(ctDNA++)'], ['FGA-Low','(ctDNA-)'], ['FGA-Mid','(ctDNA+)']];
const FGA_Q1 = [-0.347, -0.124, -0.238];
const FGA_MED = [-0.096, 0.083, -0.020];
const FGA_Q3 = [0.170, 0.297, 0.177];
const FGA_NOTCH_LO = [-0.144, 0.052, -0.059];
const FGA_NOTCH_HI = [-0.046, 0.109, 0.020];
const FGA_WHISK_LO = [-1.096, -0.736, -0.801];
const FGA_WHISK_HI = [0.814, 0.880, 0.755];
const FGA_OUT_HIGH = [];
const FGA_OUT_LOW = [0.948, -0.788, -0.808, -0.823, -0.838, -0.867, -0.889, -0.908, -1.007, -1.074, -1.207, -1.478];
const FGA_OUT_MID = [0.860, -0.889, -0.904, -0.948, -0.958, -1.389, -1.465];

// jittered points: [offset from group centre, GOI]
const JIT_TMB_HIGH = [
[-0.12,0.87],[0.0,0.88],[0.1,0.82],[-0.06,0.71],[-0.09,0.67],[0.04,0.69],[0.1,0.58],[-0.04,0.62],[-0.13,0.51],[0.08,0.51],
[-0.01,0.47],[0.05,0.42],[-0.1,0.36],[0.13,0.36],[-0.06,0.33],[0.03,0.30],[0.11,0.27],[-0.14,0.40],
[-0.12,0.21],[0.02,0.2],[0.11,0.18],[-0.05,0.15],[0.08,0.12],[-0.14,0.1],[0.04,0.08],[-0.09,0.06],[0.13,0.04],[-0.02,0.02],
[0.07,0.0],[-0.11,-0.02],[0.1,-0.04],[-0.06,-0.06],[0.03,-0.08],[-0.13,-0.1],[0.12,-0.12],[-0.03,-0.14],[0.06,-0.16],[-0.1,-0.18],
[0.09,-0.2],[-0.07,-0.22],[0.01,0.14],[-0.04,-0.03],[0.14,0.22],[-0.12,-0.15],[0.05,0.24],[-0.08,0.17],[0.1,0.09],[-0.01,-0.19],
[0.13,-0.17],[-0.14,0.02],[0.07,-0.1],[-0.05,0.05],[0.02,-0.23],[0.11,0.15],[-0.1,0.23],[0.04,-0.05],[-0.02,0.11],[0.08,-0.21],
[-0.12,-0.27],[0.06,-0.28],[-0.05,-0.32],[0.12,-0.33],[-0.1,-0.36],[0.02,-0.38],[0.14,-0.37],[-0.13,-0.45],[0.09,-0.43],[-0.02,-0.5],
[-0.11,-0.52],[0.07,-0.56],[-0.04,-0.6],[0.11,-0.62],[-0.08,-0.66],[0.05,-0.7],[-0.14,-0.75],[0.09,-0.8],[-0.1,-0.84],[-0.13,-0.88],
[-0.03,-0.94],[0.1,-0.4],[-0.04,-1.10],
[-0.11,0.24],[0.0,0.23],[0.09,0.22],[-0.07,0.19],[0.12,0.2],[0.03,0.17],[-0.13,0.16],[-0.03,0.13],[0.06,0.14],[0.14,0.1],
[-0.08,0.11],[0.01,0.06],[-0.12,0.07],[0.09,0.05],[-0.04,0.08],[0.12,0.01],[0.04,0.02],[-0.1,0.03],[-0.01,-0.01],[0.08,-0.06],
[-0.13,-0.05],[0.02,-0.07],[-0.07,-0.09],[0.11,-0.09],[-0.02,-0.11],[0.06,-0.13],[-0.11,-0.12],[0.13,-0.14],[-0.06,-0.16],[0.03,-0.17],
[-0.14,-0.19],[0.1,-0.18],[-0.03,-0.21],[0.07,-0.22],[-0.09,-0.24],[0.12,-0.25],[0.0,-0.3],[-0.07,-0.35],[0.08,-0.47],[-0.12,-0.58],
[0.03,-0.65],[0.13,-0.52],[-0.05,-0.42],[0.1,0.44],[-0.08,0.48],[0.02,0.55],[-0.11,0.3],[0.07,0.33],[0.12,0.62],[-0.03,0.38],
[-0.1,0.19],[0.05,0.18],[0.13,0.07],[-0.06,0.0],[0.09,-0.02],[-0.12,-0.07],[0.02,-0.12],[-0.04,-0.2],[0.11,-0.23],[-0.08,0.13],
[0.07,0.1],[-0.02,0.19],[0.04,-0.14],[-0.13,0.12],[0.14,-0.08],[-0.09,-0.3],[0.06,-0.34],[0.02,0.3],[-0.06,0.5],[0.1,-0.6]
];
const JIT_TMB_LOW = [
[-0.13,0.86],[-0.08,0.8],[0.06,0.86],[0.08,0.78],[0.07,0.7],[-0.11,0.61],[-0.05,0.58],[0.12,0.59],[0.03,0.55],[-0.14,0.53],
[-0.02,0.5],[0.09,0.5],[-0.12,0.47],[0.11,0.46],[-0.07,0.43],[0.02,0.41],[0.13,0.4],[-0.14,0.37],[-0.04,0.36],[0.06,0.34],
[-0.1,0.31],[0.1,0.3],[0.0,0.29],[-0.13,0.42],[0.14,0.33],
[-0.12,0.25],[-0.04,0.24],[0.05,0.25],[0.12,0.23],[-0.09,0.21],[0.01,0.2],[0.09,0.19],[-0.14,0.18],[-0.06,0.17],[0.04,0.16],
[0.13,0.15],[-0.11,0.13],[-0.02,0.12],[0.07,0.11],[-0.08,0.09],[0.1,0.08],[0.0,0.07],[-0.13,0.06],[0.06,0.05],[-0.05,0.04],
[0.13,0.03],[-0.1,0.02],[0.03,0.01],[-0.01,0.0],[0.11,-0.01],[-0.12,-0.02],[0.05,-0.03],[-0.06,-0.04],[0.08,-0.05],[-0.03,-0.06],
[0.14,-0.07],[-0.13,-0.08],[0.02,-0.09],[-0.08,-0.1],[0.1,-0.11],[-0.04,-0.12],[0.06,-0.13],[-0.11,-0.14],[0.12,-0.15],[0.0,-0.16],
[-0.07,-0.17],[0.09,-0.18],[-0.14,0.1],[0.14,0.12],[-0.02,0.18],[0.04,-0.15],[-0.09,0.0],[0.08,0.21],[-0.05,-0.14],[0.11,0.04],
[0.03,0.1],[-0.1,-0.06],[0.07,-0.09],[-0.03,0.22],[0.13,-0.12],
[-0.12,-0.2],[0.05,-0.21],[-0.05,-0.23],[0.1,-0.24],[-0.13,-0.26],[0.02,-0.27],[0.12,-0.28],[-0.08,-0.3],[0.07,-0.32],[-0.02,-0.33],
[-0.11,-0.35],[0.09,-0.37],[0.03,-0.4],[-0.14,-0.42],[-0.06,-0.45],[0.11,-0.47],[0.0,-0.5],[-0.1,-0.53],[0.13,-0.55],[-0.04,-0.57],
[0.06,-0.6],[-0.13,-0.62],[0.1,-0.64],[-0.08,-0.67],[0.04,-0.7],[-0.11,-0.72],[0.08,-0.75],[-0.03,-0.78],[0.07,-0.8],[-0.14,-0.66],
[0.12,-0.4],[0.12,-1.475],[0.02,-0.88],[-0.01,-0.90],
[-0.13,0.24],[-0.06,0.26],[0.02,0.23],[0.09,0.25],[0.14,0.2],[-0.1,0.19],[-0.02,0.21],[0.06,0.18],[0.12,0.17],[-0.12,0.15],
[-0.04,0.14],[0.04,0.13],[0.11,0.13],[-0.08,0.12],[0.0,0.11],[0.08,0.1],[-0.14,0.08],[-0.06,0.07],[0.03,0.06],[0.12,0.06],
[-0.11,0.04],[-0.03,0.03],[0.06,0.02],[0.14,0.01],[-0.09,0.0],[0.0,-0.01],[0.09,-0.02],[-0.13,-0.03],[-0.05,-0.05],[0.04,-0.06],
[0.12,-0.04],[-0.1,-0.08],[-0.01,-0.08],[0.07,-0.1],[-0.14,-0.11],[-0.06,-0.12],[0.03,-0.13],[0.11,-0.14],[-0.09,-0.15],[0.0,-0.15],
[0.08,-0.16],[-0.12,-0.17],[0.13,-0.17],[-0.04,-0.18],[0.05,0.2],[-0.07,0.22],[0.1,0.14],[-0.01,0.16],[0.13,0.09],[-0.12,0.11],
[0.02,-0.03],[-0.08,-0.02],[0.06,-0.08],[-0.03,0.09],[0.09,0.04],[-0.1,0.17],[0.04,0.24],[-0.05,0.0],[0.1,-0.12],[-0.13,0.02],
[-0.09,0.84],[0.09,0.83],[-0.12,0.75],[0.01,0.65],[0.13,0.6],[-0.06,0.56],[0.06,0.52],[-0.13,0.5],[0.1,0.45],[-0.02,0.44],
[0.04,0.39],[-0.09,0.38],[0.12,0.36],[-0.05,0.33],[0.08,0.31],[-0.14,0.3],[0.03,0.28],[-0.08,0.27],
[-0.1,-0.21],[0.07,-0.22],[-0.03,-0.25],[0.13,-0.26],[-0.12,-0.29],[0.04,-0.3],[-0.06,-0.32],[0.1,-0.34],[-0.14,-0.36],[0.0,-0.38],
[0.12,-0.42],[-0.09,-0.43],[0.05,-0.45],[-0.03,-0.48],[0.1,-0.52],[-0.12,-0.55],[0.02,-0.58],[-0.07,-0.61],[0.12,-0.63],[-0.1,-0.68],
[0.06,-0.71],[-0.04,-0.74],[0.1,-0.77],[-0.13,-0.79],[-0.12,-0.9],[-0.09,-0.87],
[-0.11,0.22],[0.03,0.21],[0.11,0.2],[-0.05,0.19],[0.08,0.15],[-0.13,0.14],[0.0,0.13],[0.13,0.11],[-0.07,0.1],[0.05,0.08],
[-0.12,0.05],[0.02,0.04],[0.1,0.02],[-0.04,0.02],[0.14,-0.02],[-0.1,-0.03],[0.01,-0.04],[0.08,-0.07],[-0.06,-0.09],[0.12,-0.1],
[-0.13,-0.12],[0.04,-0.11],[-0.02,-0.14],[0.09,-0.16],[-0.08,-0.16],[0.06,0.23],[-0.1,0.07],[0.12,0.07],
[-0.06,0.48],[0.07,0.42],[-0.11,0.4],[0.11,0.55],[0.0,0.35],
[-0.07,-0.27],[0.06,-0.36],[-0.12,-0.46],[0.09,-0.57],[-0.02,-0.62],[0.13,-0.69],[-0.08,-0.76]
];
const JIT_TMB_MID = [
[-0.14,0.95],[-0.06,0.71],[-0.11,0.69],[0.0,0.66],[0.03,0.66],[0.1,0.57],[-0.12,0.59],[-0.05,0.5],[0.08,0.48],[-0.13,0.44],
[0.13,0.4],[-0.02,0.43],[0.06,0.35],[-0.09,0.32],[-0.01,0.32],[0.11,0.28],[-0.14,0.26],[0.04,0.24],[-0.07,0.22],
[-0.12,0.17],[-0.03,0.18],[0.07,0.16],[0.13,0.14],[-0.09,0.12],[0.02,0.11],[0.1,0.09],[-0.14,0.07],[-0.05,0.06],[0.05,0.04],
[0.12,0.02],[-0.1,0.01],[-0.01,0.0],[0.08,-0.02],[-0.13,-0.03],[0.03,-0.05],[-0.06,-0.07],[0.11,-0.08],[-0.11,-0.1],[0.0,-0.11],
[0.09,-0.13],[-0.04,-0.14],[0.14,-0.15],[-0.13,-0.17],[0.05,-0.18],[-0.08,-0.19],[0.1,-0.2],[-0.02,0.14],[0.06,-0.1],[-0.1,0.15],
[0.03,0.08],[-0.07,-0.04],
[-0.12,-0.24],[0.04,-0.25],[0.13,-0.27],[-0.05,-0.3],[0.09,-0.32],[-0.14,-0.35],[0.01,-0.37],[0.12,-0.4],[-0.09,-0.42],[-0.02,-0.46],
[0.1,-0.5],[-0.13,-0.55],[0.05,-0.58],[-0.06,-0.62],[0.11,-0.65],[-0.11,-0.69],[0.03,-0.72],[-0.14,-0.81],[0.07,-0.84],[-0.1,-0.96],
[-0.13,-1.07],[0.07,-0.875],[-0.04,-0.79],
[-0.11,0.18],[0.01,0.17],[0.1,0.19],[-0.05,0.15],[0.12,0.11],[-0.13,0.12],[0.04,0.13],[-0.07,0.09],[0.07,0.07],[-0.02,0.05],
[0.13,0.05],[-0.12,0.03],[0.02,0.02],[-0.08,0.0],[0.1,-0.01],[-0.03,-0.03],[0.06,-0.04],[-0.14,-0.06],[0.13,-0.06],[-0.05,-0.09],
[0.03,-0.09],[-0.1,-0.12],[0.11,-0.11],[-0.02,-0.13],[0.07,-0.15],[-0.12,-0.15],[0.0,-0.17],[0.12,-0.18],[-0.06,-0.2],[0.05,-0.21],
[-0.09,0.04],[0.09,0.12],[-0.04,0.1],[0.14,0.16],
[-0.1,0.45],[0.05,0.5],[0.12,0.33],[-0.05,0.38],[0.02,0.27],[-0.12,0.29],[0.09,0.22],
[-0.08,-0.27],[0.06,-0.34],[-0.13,-0.39],[0.11,-0.44],[-0.04,-0.49],[0.13,-0.56],[-0.1,-0.6],[0.04,-0.66],[0.1,-0.7],[-0.07,-0.52],
[-0.1,0.1],[0.06,0.09],[0.13,0.0],[-0.04,-0.01],[0.09,-0.05],[-0.12,-0.08],[0.02,-0.14],[-0.06,-0.16],[0.11,-0.17],[-0.09,0.18],
[0.04,0.15],[-0.01,0.07],[0.07,-0.2],[-0.13,0.16],[0.14,0.08],[-0.08,-0.25],[0.05,-0.4],[0.0,0.4],[-0.06,0.6],[0.09,-0.6]
];
const JIT_FGA_HIGH = [
[-0.01,0.81],[-0.1,0.58],[-0.08,0.57],[0.0,0.53],[0.06,0.59],[0.11,0.71],[0.15,0.66],[-0.12,0.5],[0.1,0.51],[-0.03,0.46],
[0.05,0.45],[-0.13,0.41],[0.08,0.37],[-0.06,0.38],[0.13,0.33],[0.0,0.36],[-0.11,0.27],[0.03,0.28],[-0.07,0.23],[0.11,0.22],
[-0.14,0.25],[0.06,0.2],[-0.02,0.68],
[-0.12,0.15],[-0.03,0.14],[0.07,0.13],[0.12,0.11],[-0.09,0.09],[0.02,0.08],[0.1,0.06],[-0.14,0.04],[-0.05,0.02],[0.05,0.0],
[0.13,-0.02],[-0.1,-0.04],[-0.01,-0.06],[0.08,-0.08],[-0.13,-0.1],[0.03,-0.12],[-0.06,-0.14],[0.11,-0.16],[-0.11,-0.18],[0.0,-0.2],
[0.09,-0.22],[-0.04,-0.24],[0.14,-0.26],[-0.13,-0.28],[0.05,-0.3],[-0.08,-0.32],[0.1,-0.33],[-0.02,0.1],[0.06,-0.25],[-0.09,-0.15],
[0.02,-0.27],[0.12,-0.05],
[-0.12,-0.38],[0.04,-0.39],[0.13,-0.41],[-0.05,-0.44],[0.09,-0.47],[-0.14,-0.48],[0.01,-0.5],[-0.09,-0.55],[0.12,-0.57],[-0.02,-0.6],
[-0.13,-0.64],[0.07,-0.66],[-0.06,-0.68],[0.1,-0.72],[0.05,-0.78],[0.08,-0.82],[0.12,-0.88],[0.05,-0.95],[-0.1,-0.97],[0.05,-1.1],
[-0.04,-0.52],
[-0.11,0.16],[0.0,0.14],[0.1,0.13],[-0.06,0.11],[0.13,0.08],[-0.13,0.07],[0.04,0.05],[-0.03,0.03],[0.08,0.01],[-0.09,-0.01],
[0.12,-0.04],[0.01,-0.03],[-0.12,-0.06],[0.06,-0.07],[-0.04,-0.09],[0.1,-0.11],[-0.1,-0.12],[0.02,-0.14],[-0.07,-0.17],[0.13,-0.19],
[0.04,-0.19],[-0.13,-0.21],[-0.02,-0.23],[0.08,-0.24],[-0.09,-0.26],[0.11,-0.28],[0.0,-0.29],[-0.05,-0.31],[0.07,-0.32],[-0.12,-0.33],
[0.13,-0.34],[-0.03,-0.05],[0.05,-0.16],[-0.14,-0.15],[0.09,0.1],
[-0.08,0.43],[0.04,0.4],[0.12,0.3],[-0.12,0.33],[0.01,0.25],[-0.05,0.2],[0.1,0.24],
[-0.1,-0.4],[0.06,-0.42],[-0.01,-0.45],[0.12,-0.5],[-0.13,-0.54],[0.03,-0.58],[-0.07,-0.62],[0.11,-0.65],[-0.11,-0.7],[0.08,-0.75],
[-0.02,-0.69],[0.13,-0.4],
[-0.1,0.12],[0.06,0.1],[0.13,-0.06],[-0.04,-0.07],[0.09,-0.13],[-0.12,-0.16],[0.02,-0.21],[-0.06,-0.27],[0.11,-0.3],[-0.09,0.05],
[0.04,0.02],[-0.01,-0.11],[0.07,-0.28],[-0.13,0.13],[0.14,0.03],[-0.08,-0.36],[0.05,-0.46],[0.0,0.42],[-0.06,0.55],[0.09,-0.6]
];
const JIT_FGA_LOW = [
[-0.08,0.86],[0.1,0.88],[0.13,0.86],[0.07,0.82],[0.05,0.79],[-0.12,0.7],[-0.13,0.66],[0.12,0.67],[-0.06,0.63],[0.09,0.6],
[-0.03,0.57],[0.11,0.55],[-0.11,0.53],[0.02,0.52],[0.14,0.48],[-0.09,0.48],[0.05,0.46],[-0.14,0.44],[-0.01,0.42],[0.1,0.41],
[-0.07,0.39],[0.13,0.38],[0.03,0.36],[-0.12,0.35],[0.07,0.33],[-0.04,0.32],[0.0,0.6],
[-0.12,0.28],[-0.03,0.29],[0.06,0.27],[0.13,0.26],[-0.08,0.25],[0.02,0.24],[0.1,0.23],[-0.14,0.22],[-0.05,0.21],[0.05,0.2],
[0.12,0.19],[-0.1,0.18],[-0.01,0.17],[0.08,0.16],[-0.13,0.15],[0.03,0.14],[-0.06,0.13],[0.11,0.12],[-0.11,0.11],[0.0,0.1],
[0.09,0.09],[-0.04,0.08],[0.14,0.07],[-0.13,0.06],[0.05,0.05],[-0.08,0.04],[0.1,0.03],[-0.02,0.02],[0.07,0.01],[-0.12,0.0],
[0.03,-0.01],[-0.06,-0.02],[0.12,-0.03],[-0.1,-0.04],[0.01,-0.05],[0.08,-0.06],[-0.14,-0.07],[-0.04,-0.08],[0.13,-0.09],[-0.09,-0.1],
[0.04,-0.11],[-0.01,-0.12],[0.1,0.26],[-0.07,0.19],[0.06,0.11],[-0.11,-0.06],[0.14,0.21],[-0.03,0.0],[0.02,0.18],[0.09,-0.1],
[-0.13,0.24],[0.05,0.07],[-0.06,0.14],
[-0.12,-0.15],[0.05,-0.16],[-0.05,-0.18],[0.11,-0.2],[-0.13,-0.22],[0.02,-0.24],[0.13,-0.26],[-0.08,-0.28],[0.07,-0.3],[-0.02,-0.32],
[-0.11,-0.35],[0.09,-0.37],[0.03,-0.4],[-0.14,-0.42],[-0.06,-0.44],[0.14,-0.45],[0.0,-0.48],[-0.1,-0.51],[0.12,-0.53],[-0.04,-0.56],
[0.06,-0.59],[-0.13,-0.61],[0.1,-0.63],[-0.08,-0.65],[0.04,-0.68],[-0.11,-0.72],[0.08,-0.75],[-0.07,-0.81],[0.11,-0.83],[-0.03,-0.87],
[0.12,-0.89],[0.06,-1.0],[-0.1,-1.48],[-0.12,-0.81],[0.0,-0.79],[-0.05,-0.9],
[-0.13,0.29],[-0.05,0.28],[0.03,0.27],[0.11,0.28],[-0.09,0.26],[0.0,0.25],[0.08,0.24],[-0.12,0.23],[-0.03,0.22],[0.05,0.22],
[0.13,0.2],[-0.07,0.2],[0.02,0.19],[0.1,0.18],[-0.11,0.17],[-0.02,0.16],[0.07,0.15],[-0.14,0.13],[-0.05,0.12],[0.04,0.12],
[0.12,0.11],[-0.09,0.1],[0.0,0.09],[0.09,0.08],[-0.12,0.08],[-0.03,0.07],[0.06,0.06],[0.14,0.05],[-0.07,0.05],[0.01,0.04],
[0.1,0.02],[-0.11,0.02],[-0.01,0.01],[0.07,0.0],[-0.14,-0.01],[-0.05,-0.02],[0.04,-0.03],[0.12,-0.04],[-0.09,-0.05],[0.0,-0.06],
[0.08,-0.07],[-0.12,-0.08],[-0.02,-0.09],[0.05,-0.1],[0.13,-0.11],[-0.07,-0.11],[0.02,-0.12],[-0.1,0.27],[0.06,0.29],[0.12,0.14],
[-0.13,0.19],[-0.04,0.16],[0.09,0.03],[-0.06,-0.07],[0.03,0.1],[0.11,-0.06],[-0.08,0.06],[0.0,0.21],[0.14,0.25],[-0.11,-0.1],
[-0.11,0.82],[0.04,0.77],[0.12,0.72],[-0.05,0.68],[0.08,0.64],[-0.13,0.61],[0.02,0.58],[0.13,0.55],[-0.08,0.55],[-0.01,0.5],
[0.09,0.48],[-0.12,0.46],[0.05,0.44],[-0.04,0.4],[0.12,0.37],[-0.1,0.37],[0.01,0.34],[0.08,0.31],[-0.06,0.3],
[-0.1,-0.14],[0.07,-0.15],[-0.02,-0.17],[0.12,-0.18],[-0.13,-0.19],[0.03,-0.2],[-0.06,-0.22],[0.1,-0.23],[-0.11,-0.25],[0.0,-0.27],
[0.13,-0.29],[-0.08,-0.31],[0.06,-0.33],[-0.03,-0.36],[0.11,-0.39],[-0.12,-0.4],[0.02,-0.43],[-0.07,-0.47],[0.08,-0.5],[-0.13,-0.54],
[0.05,-0.57],[-0.04,-0.6],[0.12,-0.62],[-0.1,-0.66],[0.0,-0.7],[0.09,-0.72],[-0.06,-0.75],[0.13,-0.8],[-0.09,-0.85],[0.04,-0.82],
[-0.11,0.27],[0.03,0.26],[0.11,0.25],[-0.05,0.24],[0.08,0.21],[-0.13,0.2],[0.0,0.19],[0.13,0.17],[-0.07,0.16],[0.05,0.14],
[-0.12,0.12],[0.02,0.11],[0.1,0.1],[-0.04,0.1],[0.14,0.09],[-0.1,0.07],[0.01,0.06],[0.08,0.04],[-0.06,0.03],[0.12,0.02],
[-0.13,0.01],[0.04,0.0],[-0.02,-0.03],[0.09,-0.05],[-0.08,-0.06],[0.06,-0.09],[-0.1,-0.11],[0.12,-0.12],
[-0.06,0.45],[0.07,0.38],[-0.11,0.42],[0.11,0.6],[0.0,0.33],
[-0.07,-0.2],[0.06,-0.27],[-0.12,-0.33],[0.09,-0.41],[-0.02,-0.5],[0.13,-0.58],[-0.08,-0.7]
];
const JIT_FGA_MID = [
[0.05,0.86],[-0.07,0.76],[0.0,0.69],[0.12,0.66],[0.14,0.63],[0.16,0.59],[-0.12,0.57],[-0.05,0.55],[-0.1,0.5],[0.03,0.5],
[-0.13,0.45],[0.1,0.48],[0.14,0.41],[-0.08,0.4],[0.0,0.37],[0.11,0.38],[-0.11,0.3],[0.04,0.32],[-0.02,0.28],[0.09,0.25],
[-0.14,0.24],[0.06,0.21],[-0.06,0.19],
[-0.12,0.16],[-0.03,0.15],[0.07,0.14],[0.13,0.13],[-0.09,0.11],[0.02,0.1],[0.1,0.08],[-0.14,0.07],[-0.05,0.05],[0.05,0.04],
[0.12,0.02],[-0.1,0.01],[-0.01,-0.01],[0.08,-0.02],[-0.13,-0.04],[0.03,-0.06],[-0.06,-0.07],[0.11,-0.09],[-0.11,-0.1],[0.0,-0.12],
[0.09,-0.13],[-0.04,-0.15],[0.14,-0.16],[-0.13,-0.18],[0.05,-0.19],[-0.08,-0.21],[0.1,-0.22],[-0.02,0.12],[0.06,-0.11],[-0.1,0.13],
[0.03,0.06],[-0.07,-0.03],[0.12,-0.2],[-0.03,-0.16],
[-0.12,-0.26],[0.04,-0.27],[0.13,-0.29],[-0.05,-0.31],[0.09,-0.34],[-0.14,-0.36],[0.01,-0.38],[0.12,-0.41],[-0.09,-0.43],[-0.02,-0.46],
[0.1,-0.5],[-0.13,-0.52],[0.05,-0.55],[-0.06,-0.6],[0.11,-0.63],[-0.11,-0.66],[0.03,-0.7],[-0.08,-0.75],[0.0,-0.79],[-0.14,-0.89],
[-0.1,-0.95],[-0.08,-0.94],[0.07,-1.39],[-0.14,-1.47],
[-0.11,0.17],[0.0,0.16],[0.1,0.15],[-0.06,0.13],[0.13,0.11],[-0.13,0.1],[0.04,0.09],[-0.03,0.07],[0.08,0.05],[-0.09,0.03],
[0.12,0.01],[0.01,0.0],[-0.12,-0.02],[0.06,-0.03],[-0.04,-0.04],[0.1,-0.06],[-0.1,-0.07],[0.02,-0.08],[-0.07,-0.1],[0.13,-0.12],
[0.04,-0.13],[-0.13,-0.14],[-0.02,-0.17],[0.08,-0.18],[-0.09,-0.19],[0.11,-0.21],[0.0,-0.22],[-0.05,-0.23],[0.07,-0.09],[-0.12,0.13],
[0.03,0.14],[-0.01,-0.2],
[-0.09,0.46],[0.05,0.42],[0.12,0.35],[-0.12,0.35],[0.02,0.26],[-0.05,0.22],[0.1,0.21],[0.07,0.57],
[-0.1,-0.28],[0.06,-0.3],[-0.01,-0.33],[0.12,-0.36],[-0.13,-0.41],[0.03,-0.45],[-0.07,-0.5],[0.11,-0.56],[-0.11,-0.58],[0.08,-0.62],
[-0.02,-0.67],[0.13,-0.46],[-0.06,-0.38],
[-0.1,0.14],[0.06,0.12],[0.13,0.04],[-0.04,0.02],[0.09,-0.01],[-0.12,-0.05],[0.02,-0.11],[-0.06,-0.14],[0.11,-0.16],[-0.09,0.16],
[0.04,0.17],[-0.01,0.06],[0.07,-0.21],[-0.13,0.16],[0.14,0.1],[-0.08,-0.25],[0.05,-0.38],[0.0,0.45],[-0.06,0.62],[0.09,-0.52]
];

// ---------------- TEXT ----------------
const FONT = '"Liberation Sans", Arial, Helvetica, sans-serif';
const TXT = {
  titleA1: 'GOI vs. TMB (ctDNA Proxy 1)',
  titleA2: 'GOI vs. FGA (ctDNA Proxy 2)',
  xTitleA1: 'log1p(Tumour Mutation Burden)',
  xTitleA2: 'Fraction Genome Altered (GISTIC2)',
  yTitleA: 'GOI (Gene Overexpression Index)',
  caption: 'Red = linear fit  |  Green dashed = LOESS',
  statA1: ['Spearman \u03C1 = -0.053', 'p = 0.0888', 'n = 1018'],
  statA2: ['Spearman \u03C1 = -0.188', 'p = 4.47e-10', 'n = 1078'],
  titleB1: 'GOI by TMB Group',
  titleB2: 'GOI by FGA Group',
  kwB1: 'Kruskal-Wallis, p = 0.23',
  kwB2: 'Kruskal-Wallis, p = 3.1e-10'
};

// ---------------- HELPERS ----------------
const page = document.getElementById('page');
function addCanvas(x, y, w, h) {
  const c = document.createElement('canvas');
  c.width = w; c.height = h;
  c.style.left = x + 'px'; c.style.top = y + 'px';
  c.style.width = w + 'px'; c.style.height = h + 'px';
  page.appendChild(c);
  return c;
}
function addText(t, x, base, size, o = {}) {
  const d = document.createElement('div');
  d.className = 'lbl';
  d.textContent = t;
  d.style.fontSize = size + 'px';
  d.style.left = x + 'px';
  d.style.top = (base - 0.8465 * size) + 'px';
  if (o.bold) d.style.fontWeight = 'bold';
  if (o.italic) d.style.fontStyle = 'italic';
  if (o.color) d.style.color = o.color;
  if (o.align === 'right') d.style.transform = 'translateX(-100%)';
  if (o.align === 'center') d.style.transform = 'translateX(-50%)';
  page.appendChild(d);
}
function addBox(x, y, w, h) {
  const d = document.createElement('div');
  d.className = 'annot';
  d.style.left = x + 'px'; d.style.top = y + 'px';
  d.style.width = w + 'px'; d.style.height = h + 'px';
  page.appendChild(d);
}
const near = (a, b) => Math.abs(a - b) < 1e-6;

function makeAxis(c) {
  const all = c.major.concat(c.minor).sort((a, b) => a - b);
  const isMinor = ctx => ctx.tick && c.minor.some(m => near(m, ctx.tick.value));
  const horiz = c.pos === 'bottom';
  return {
    type: 'linear', position: c.pos, min: c.min, max: c.max, bounds: 'data',
    afterBuildTicks: s => { s.ticks = all.map(v => ({ value: v })); },
    afterFit: s => { if (horiz) s.height = c.size; else s.width = c.size; },
    ticks: {
      autoSkip: false, maxRotation: 0, minRotation: 0, padding: c.tickPad,
      color: '#4D4D4D', font: { family: FONT, size: c.font, lineHeight: 1.12 },
      callback: v => { const i = c.major.findIndex(m => near(m, v)); return i < 0 ? '' : c.labels[i]; }
    },
    grid: {
      drawTicks: true, tickLength: c.tickLen, tickWidth: 2.4,
      tickColor: ctx => isMinor(ctx) ? 'rgba(0,0,0,0)' : '#333333',
      color: ctx => isMinor(ctx) ? '#F2F2F2' : '#EBEBEB',
      lineWidth: ctx => isMinor(ctx) ? 2 : 3.5
    },
    border: { display: false },
    title: c.title ? {
      display: true, text: c.title, color: '#000',
      font: { family: FONT, size: c.titleSize || 44 },
      padding: horiz ? { top: 0, bottom: c.titlePad } : { top: c.titlePad, bottom: 0 }
    } : { display: false }
  };
}
function baseOptions(xs, ys, extra) {
  return {
    responsive: false, maintainAspectRatio: false, animation: false, devicePixelRatio: 1, events: [],
    layout: { padding: { left: 0, top: 40, right: 40, bottom: 0 }, autoPadding: false },
    plugins: Object.assign({ legend: { display: false }, tooltip: { enabled: false }, title: { display: false } }, extra || {}),
    scales: { x: xs, y: ys }
  };
}
const toXY = arr => arr.map(p => ({ x: p[0], y: p[1] }));
function lineDS(points, o) {
  return Object.assign({ type: 'line', data: points, pointRadius: 0, fill: false, tension: 0, borderWidth: 4 }, o);
}
function pointDS(points, fill, stroke, r, bw) {
  return { type: 'scatter', data: points, showLine: false,
           pointRadius: r, pointBorderWidth: bw,
           pointBackgroundColor: fill, pointBorderColor: stroke };
}
const frame = {
  id: 'frame',
  afterDraw(chart) {
    const a = chart.chartArea, ctx = chart.ctx;
    ctx.save(); ctx.strokeStyle = '#333333'; ctx.lineWidth = 2.5;
    ctx.strokeRect(a.left, a.top, a.right - a.left, a.bottom - a.top);
    ctx.restore();
  }
};
const notchBox = {
  id: 'notchBox',
  beforeDatasetsDraw(chart, args, o) {
    if (!o || !o.q1) return;
    const xs = chart.scales.x, ys = chart.scales.y, ctx = chart.ctx;
    const Y = v => ys.getPixelForValue(v);
    ctx.save();
    for (let i = 0; i < o.q1.length; i++) {
      const c = i + 1, hw = o.half;
      const xc = xs.getPixelForValue(c);
      const xl = xs.getPixelForValue(c - hw), xr = xs.getPixelForValue(c + hw);
      const nl = xs.getPixelForValue(c - hw / 2), nr = xs.getPixelForValue(c + hw / 2);
      ctx.strokeStyle = '#1A1A1A'; ctx.lineWidth = 3;
      ctx.beginPath();
      ctx.moveTo(xc, Y(o.whiskHi[i])); ctx.lineTo(xc, Y(o.q3[i]));
      ctx.moveTo(xc, Y(o.q1[i])); ctx.lineTo(xc, Y(o.whiskLo[i]));
      ctx.stroke();
      ctx.beginPath();
      ctx.moveTo(xl, Y(o.q3[i])); ctx.lineTo(xr, Y(o.q3[i]));
      ctx.lineTo(xr, Y(o.notchHi[i])); ctx.lineTo(nr, Y(o.med[i])); ctx.lineTo(xr, Y(o.notchLo[i]));
      ctx.lineTo(xr, Y(o.q1[i])); ctx.lineTo(xl, Y(o.q1[i]));
      ctx.lineTo(xl, Y(o.notchLo[i])); ctx.lineTo(nl, Y(o.med[i])); ctx.lineTo(xl, Y(o.notchHi[i]));
      ctx.closePath();
      ctx.fillStyle = o.colors[i]; ctx.fill();
      ctx.strokeStyle = '#333333'; ctx.lineWidth = 3; ctx.lineJoin = 'miter'; ctx.stroke();
      ctx.beginPath(); ctx.lineWidth = 6.5; ctx.lineCap = 'butt';
      ctx.moveTo(nl, Y(o.med[i])); ctx.lineTo(nr, Y(o.med[i])); ctx.stroke();
    }
    ctx.restore();
  }
};
function bandData(xs, ys) { return xs.map((x, i) => ({ x: x, y: ys[i] })); }

// ---------------- PANEL A ----------------
function scatterPanel(cv, pts, fill, stroke, lin, bandX, bandHi, bandLo, loess, xAxis, yAxis) {
  return new Chart(cv, {
    type: 'scatter',
    data: { datasets: [
      lineDS(toXY(loess), { borderColor: '#0A640A', borderWidth: 4.5, borderDash: [21, 14], cubicInterpolationMode: 'monotone' }),
      lineDS(toXY(lin), { borderColor: '#C41F28', borderWidth: 5.5 }),
      lineDS(bandData(bandX, bandHi), { borderColor: 'rgba(0,0,0,0)', borderWidth: 1, fill: '+1', backgroundColor: 'rgba(170,170,170,0.24)', cubicInterpolationMode: 'monotone' }),
      lineDS(bandData(bandX, bandLo), { borderColor: 'rgba(0,0,0,0)', borderWidth: 1, cubicInterpolationMode: 'monotone' }),
      pointDS(toXY(pts), fill, stroke, 6.2, 2.4)
    ]},
    options: baseOptions(xAxis, yAxis),
    plugins: [frame]
  });
}
const yA = (size, pad) => makeAxis({ pos: 'left', min: -1.597, max: 1.073, major: Y_MAJOR, minor: Y_MINOR, labels: Y_LABELS,
  size: size, tickLen: 11, tickPad: 10, font: 33, title: TXT.yTitleA, titlePad: pad, titleSize: 44 });

scatterPanel(addCanvas(100, 128, 1727, 1218), TMB_POINTS.concat(TMB_POINTS_CORE, TMB_POINTS_DENSE),
  'rgba(55,120,200,0.42)', 'rgba(40,105,185,0.62)', TMB_LINEAR,
  TMB_BAND_X, TMB_BAND_HI, TMB_BAND_LO, TMB_LOESS,
  makeAxis({ pos: 'bottom', min: 0.30, max: 8.99, major: TMB_X_MAJOR, minor: TMB_X_MINOR, labels: TMB_X_LABELS,
    size: 107, tickLen: 11, tickPad: 5, font: 33, title: TXT.xTitleA1, titlePad: 0, titleSize: 44 }),
  yA(173, 32));

scatterPanel(addCanvas(1790, 128, 1729, 1218), FGA_POINTS.concat(FGA_POINTS_CORE, FGA_POINTS_DENSE),
  'rgba(145,65,165,0.40)', 'rgba(130,55,150,0.58)', FGA_LINEAR,
  FGA_BAND_X, FGA_BAND_HI, FGA_BAND_LO, FGA_LOESS,
  makeAxis({ pos: 'bottom', min: -0.049, max: 1.024, major: FGA_X_MAJOR, minor: FGA_X_MINOR, labels: FGA_X_LABELS,
    size: 107, tickLen: 11, tickPad: 5, font: 33, title: TXT.xTitleA2, titlePad: 0, titleSize: 44 }),
  yA(172, 30));

// ---------------- PANEL B ----------------
function boxPanel(cv, groups, stats, colors, jit, outs, ySize, yPad) {
  const jitter = [], outl = [];
  jit.forEach((g, i) => g.forEach(p => jitter.push({ x: i + 1 + p[0], y: p[1] })));
  outs.forEach((g, i) => g.forEach(v => outl.push({ x: i + 1, y: v })));
  return new Chart(cv, {
    type: 'scatter',
    data: { datasets: [
      pointDS(jitter, 'rgba(0,0,0,0.34)', 'rgba(0,0,0,0)', 4.4, 0),
      pointDS(outl, 'rgba(35,35,35,0.95)', 'rgba(0,0,0,0)', 5.4, 0)
    ]},
    options: baseOptions(
      makeAxis({ pos: 'bottom', min: 0.4, max: 3.6, major: [1, 2, 3], minor: [], labels: groups,
        size: 115, tickLen: 14, tickPad: 6, font: 35 }),
      makeAxis({ pos: 'left', min: -1.597, max: 1.071, major: Y_MAJOR, minor: Y_MINOR, labels: Y_LABELS,
        size: ySize, tickLen: 14, tickPad: 11, font: 33, title: 'GOI', titlePad: yPad, titleSize: 44 }),
      { notchBox: Object.assign({ half: 0.375, colors: colors }, stats) }
    ),
    plugins: [notchBox, frame]
  });
}
boxPanel(addCanvas(150, 1583, 1670, 1387), TMB_GROUPS,
  { q1: TMB_Q1, med: TMB_MED, q3: TMB_Q3, notchLo: TMB_NOTCH_LO, notchHi: TMB_NOTCH_HI, whiskLo: TMB_WHISK_LO, whiskHi: TMB_WHISK_HI },
  ['#E2635A', '#6E97C9', '#FDE6A3'], [JIT_TMB_HIGH, JIT_TMB_LOW, JIT_TMB_MID], [TMB_OUT_HIGH, TMB_OUT_LOW, TMB_OUT_MID], 178, 28);
boxPanel(addCanvas(1790, 1583, 1665, 1387), FGA_GROUPS,
  { q1: FGA_Q1, med: FGA_MED, q3: FGA_Q3, notchLo: FGA_NOTCH_LO, notchHi: FGA_NOTCH_HI, whiskLo: FGA_WHISK_LO, whiskHi: FGA_WHISK_HI },
  ['#93589F', '#4C9463', '#BDE3B6'], [JIT_FGA_HIGH, JIT_FGA_LOW, JIT_FGA_MID], [FGA_OUT_HIGH, FGA_OUT_LOW, FGA_OUT_MID], 173, 25);

// ---------------- TEXT OVERLAYS ----------------
addText('A', 37, 133, 100, { bold: true });
addText('B', 38, 1537, 100, { bold: true });
addText(TXT.titleA1, 272, 137, 40.5, { bold: true });
addText(TXT.titleA2, 1963, 137, 40.5, { bold: true });
addText(TXT.caption, 1787, 1386, 30.5, { color: '#7F7F7F', align: 'right' });
addText(TXT.caption, 3479, 1386, 30.5, { color: '#7F7F7F', align: 'right' });

addBox(290, 183, 389, 164);
addText(TXT.statA1[0], 304, 222, 38, { italic: true });
addText(TXT.statA1[1], 293, 277, 38, { italic: true });
addText(TXT.statA1[2], 293, 333, 38, { italic: true });
addBox(1980, 183, 391, 164);
addText(TXT.statA2[0], 1995, 222, 38, { italic: true });
addText(TXT.statA2[1], 1984, 277, 38, { italic: true });
addText(TXT.statA2[2], 1984, 333, 38, { italic: true });

addText(TXT.titleB1, 328, 1591, 55, { bold: true });
addText(TXT.titleB2, 1963, 1591, 55, { bold: true });
addText(TXT.kwB1, 503, 1679, 46);
addText(TXT.kwB2, 2127, 1679, 46);
</script>
</body></html>
